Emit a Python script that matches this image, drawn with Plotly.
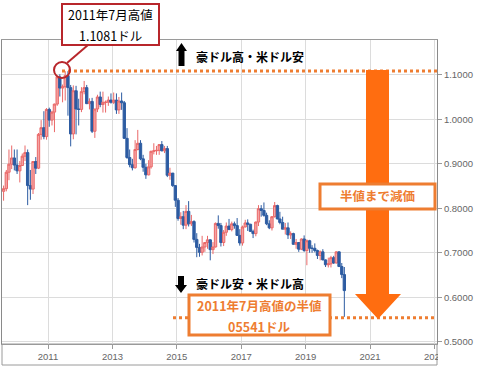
import pandas as pd
import plotly.graph_objects as go

# ---- data: AUD/USD monthly OHLC, Aug 2009 - Mar 2020 ----
start_month = "2009-08"
open_ = [
    0.838, 0.844, 0.881, 0.899, 0.913,
    0.897, 0.884, 0.896, 0.917, 0.925, 0.851, 0.843, 0.905, 0.890, 0.966, 0.981, 0.961,
    1.022, 0.998, 1.016, 1.034, 1.095, 1.070, 1.073, 1.098, 1.071, 0.967, 1.064, 1.023,
    1.022, 1.062, 1.071, 1.035, 1.040, 0.973, 1.023, 1.050, 1.033, 1.038, 1.038, 1.043,
    1.038, 1.043, 1.021, 1.041, 1.037, 0.957, 0.914, 0.898, 0.891, 0.932, 0.946, 0.911,
    0.892, 0.875, 0.893, 0.928, 0.929, 0.930, 0.943, 0.929, 0.934, 0.874, 0.879, 0.851,
    0.818, 0.777, 0.781, 0.762, 0.793, 0.765, 0.770, 0.730, 0.712, 0.701, 0.713, 0.723,
    0.729, 0.707, 0.713, 0.766, 0.761, 0.723, 0.746, 0.760, 0.752, 0.765, 0.761, 0.739,
    0.722, 0.758, 0.767, 0.764, 0.748, 0.743, 0.769, 0.799, 0.795, 0.784, 0.765, 0.756,
    0.781, 0.806, 0.776, 0.768, 0.753, 0.756, 0.740, 0.743, 0.719, 0.723, 0.708, 0.731,
    0.705, 0.727, 0.710, 0.710, 0.705, 0.694, 0.702, 0.684, 0.673, 0.675, 0.689, 0.677,
    0.702, 0.669, 0.651,
]
high = [
    0.851, 0.886, 0.932, 0.941, 0.932,
    0.932, 0.906, 0.923, 0.941, 0.932, 0.886, 0.906, 0.915, 0.969, 0.998, 1.018, 1.025,
    1.026, 1.019, 1.035, 1.095, 1.101, 1.078, 1.108, 1.108, 1.077, 1.076, 1.075, 1.046,
    1.072, 1.086, 1.077, 1.047, 1.048, 1.023, 1.055, 1.062, 1.062, 1.042, 1.051, 1.058,
    1.060, 1.058, 1.050, 1.060, 1.041, 0.980, 0.932, 0.911, 0.953, 0.976, 0.953, 0.920,
    0.900, 0.908, 0.929, 0.946, 0.940, 0.944, 0.951, 0.940, 0.940, 0.891, 0.879, 0.851,
    0.823, 0.791, 0.794, 0.807, 0.816, 0.785, 0.773, 0.744, 0.720, 0.738, 0.723, 0.738,
    0.730, 0.724, 0.768, 0.784, 0.767, 0.751, 0.768, 0.776, 0.770, 0.770, 0.778, 0.753,
    0.761, 0.774, 0.775, 0.765, 0.752, 0.770, 0.807, 0.807, 0.813, 0.790, 0.773, 0.782,
    0.814, 0.808, 0.792, 0.781, 0.767, 0.768, 0.748, 0.745, 0.731, 0.723, 0.732, 0.739,
    0.730, 0.729, 0.717, 0.721, 0.707, 0.705, 0.708, 0.685, 0.689, 0.693, 0.693, 0.703,
    0.703, 0.677, 0.668,
]
low = [
    0.817, 0.838, 0.863, 0.888, 0.885,
    0.877, 0.858, 0.895, 0.906, 0.807, 0.819, 0.832, 0.877, 0.888, 0.954, 0.955, 0.954,
    0.983, 0.986, 0.971, 1.030, 1.051, 1.038, 1.042, 1.008, 0.939, 0.955, 0.966, 0.986,
    1.016, 1.056, 1.034, 1.022, 0.969, 0.958, 1.016, 1.027, 1.015, 1.015, 1.030, 1.035,
    1.034, 1.012, 1.012, 1.021, 0.956, 0.911, 0.892, 0.885, 0.889, 0.930, 0.908, 0.882,
    0.866, 0.874, 0.889, 0.921, 0.920, 0.920, 0.928, 0.924, 0.870, 0.864, 0.848, 0.803,
    0.772, 0.763, 0.753, 0.753, 0.759, 0.760, 0.723, 0.690, 0.691, 0.694, 0.702, 0.709,
    0.683, 0.697, 0.712, 0.754, 0.714, 0.715, 0.738, 0.752, 0.748, 0.754, 0.738, 0.716,
    0.716, 0.757, 0.749, 0.747, 0.733, 0.737, 0.760, 0.781, 0.781, 0.762, 0.753, 0.750,
    0.779, 0.775, 0.764, 0.753, 0.741, 0.731, 0.731, 0.718, 0.709, 0.702, 0.706, 0.702,
    0.672, 0.700, 0.700, 0.701, 0.686, 0.683, 0.683, 0.668, 0.667, 0.667, 0.675, 0.676,
    0.668, 0.643, 0.556,
]
close = [
    0.844, 0.881, 0.899, 0.913, 0.897,
    0.884, 0.896, 0.917, 0.925, 0.851, 0.843, 0.905, 0.890, 0.966, 0.981, 0.961, 1.022,
    0.998, 1.016, 1.034, 1.095, 1.070, 1.073, 1.098, 1.071, 0.967, 1.064, 1.023, 1.022,
    1.062, 1.071, 1.035, 1.040, 0.973, 1.023, 1.050, 1.033, 1.038, 1.038, 1.043, 1.038,
    1.043, 1.021, 1.041, 1.037, 0.957, 0.914, 0.898, 0.891, 0.932, 0.946, 0.911, 0.892,
    0.875, 0.893, 0.928, 0.929, 0.930, 0.943, 0.929, 0.934, 0.874, 0.879, 0.851, 0.818,
    0.777, 0.781, 0.762, 0.793, 0.765, 0.770, 0.730, 0.712, 0.701, 0.713, 0.723, 0.729,
    0.707, 0.713, 0.766, 0.761, 0.723, 0.746, 0.760, 0.752, 0.765, 0.761, 0.739, 0.722,
    0.758, 0.767, 0.764, 0.748, 0.743, 0.769, 0.799, 0.795, 0.784, 0.765, 0.756, 0.781,
    0.806, 0.776, 0.768, 0.753, 0.756, 0.740, 0.743, 0.719, 0.723, 0.708, 0.731, 0.705,
    0.727, 0.710, 0.710, 0.705, 0.694, 0.702, 0.684, 0.673, 0.675, 0.689, 0.677, 0.702,
    0.669, 0.651, 0.615,
]
HIGH_2011 = 1.1081
HALF = 0.5541
x_ticks = ["2011-01-01", "2013-01-01", "2015-01-01", "2017-01-01", "2019-01-01", "2021-01-01", "2023-01-01"]
x_tick_text = ["2011", "2013", "2015", "2017", "2019", "2021", "2023"]
y_ticks = [0.5, 0.6, 0.7, 0.8, 0.9, 1.0, 1.1]

dates = pd.date_range(start_month + "-01", periods=len(close), freq="MS") + pd.Timedelta(days=14)

# ---- layout geometry (pixels) ----
W, H = 478, 369
L, R, T, B = 2, 437, 40, 344


def px(x):
    return (x - L) / (R - L)


def py(y):
    return (B - y) / (B - T)


def path(points):
    return "M " + " L ".join(f"{px(x):.5f},{py(y):.5f}" for x, y in points) + " Z"


ORANGE = "#ee7d31"
ARROW = "#ff6d10"
RED = "#b8262b"
JP = "Noto Sans CJK JP"

fig = go.Figure(
    go.Candlestick(
        x=dates, open=open_, high=high, low=low, close=close,
        increasing=dict(line=dict(color="#ea6868", width=1), fillcolor="#f4a3a3"),
        decreasing=dict(line=dict(color="#2d5ca2", width=1), fillcolor="#2d5ca2"),
        whiskerwidth=0, hoverinfo="skip",
    )
)

shapes = [
    # frame around x-axis area
    dict(type="rect", xref="paper", yref="paper", x0=px(2), x1=px(437), y0=py(344), y1=py(365),
         line=dict(color="#9a9a9a", width=1), layer="below"),
    # dotted reference lines
    dict(type="line", xref="paper", yref="y", x0=px(62), x1=px(437), y0=HIGH_2011, y1=HIGH_2011,
         line=dict(color=ORANGE, width=3, dash="dot")),
    dict(type="line", xref="paper", yref="y", x0=px(173), x1=px(437), y0=HALF, y1=HALF,
         line=dict(color=ORANGE, width=3, dash="dot")),
    # big orange arrow
    dict(type="path", xref="paper", yref="paper",
         path=path([(366, 70), (389, 70), (389, 294), (401, 294), (378, 319), (355, 294), (366, 294)]),
         fillcolor=ARROW, line=dict(width=0)),
    # boxes
    dict(type="rect", xref="paper", yref="paper", x0=px(320), x1=px(435), y0=py(184), y1=py(209),
         fillcolor="white", line=dict(color=ORANGE, width=3)),
    dict(type="rect", xref="paper", yref="paper", x0=px(189), x1=px(330), y0=py(295), y1=py(335),
         fillcolor="white", line=dict(color=ORANGE, width=3)),
    # red circle and connector
    dict(type="circle", xref="paper", yref="paper", x0=px(54), x1=px(70), y0=py(62), y1=py(78),
         line=dict(color=RED, width=2)),
    dict(type="line", xref="paper", yref="paper", x0=px(67), x1=px(88), y0=py(63), y1=py(45),
         line=dict(color=RED, width=2)),
    dict(type="rect", xref="paper", yref="paper", x0=px(62), x1=px(159), y0=py(4), y1=py(45),
         fillcolor="white", line=dict(color=RED, width=2)),
    # black arrows
    dict(type="path", xref="paper", yref="paper",
         path=path([(181.5, 43), (187, 51), (184.5, 51), (184.5, 66), (178.5, 66), (178.5, 51), (176, 51)]),
         fillcolor="black", line=dict(width=0)),
    dict(type="path", xref="paper", yref="paper",
         path=path([(181, 293), (187, 285), (184, 285), (184, 276), (178, 276), (178, 285), (175, 285)]),
         fillcolor="black", line=dict(width=0)),
    # cover for clipped labels in the lower-right corner
    dict(type="rect", xref="paper", yref="paper", x0=px(438), x1=px(480), y0=py(345), y1=py(372),
         fillcolor="white", line=dict(width=0), layer="above"),
]


def ann(x, y, text, color="black", size=12, xanchor="center", yanchor="middle"):
    return dict(xref="paper", yref="paper", x=px(x), y=py(y), text=text, showarrow=False,
                xanchor=xanchor, yanchor=yanchor, borderpad=0,
                font=dict(family=JP, size=size, color=color))


annotations = [
    ann(111, 25, "2011年7月高値", size=12.5, yanchor="bottom"),
    ann(111, 25, "1.1081ドル", size=12.5, yanchor="top"),
    ann(195, 56, "<b>豪ドル高・米ドル安</b>", size=12, xanchor="left"),
    ann(195, 283, "<b>豪ドル安・米ドル高</b>", size=12, xanchor="left"),
    ann(377, 196, "<b>半値まで減価</b>", color=ORANGE, size=12.5),
    ann(259, 315.5, "<b>2011年7月高値の半値</b>", color=ORANGE, size=12.5, yanchor="bottom"),
    ann(259, 315.5, "<b>05541ドル</b>", color=ORANGE, size=12.5, yanchor="top"),
]

tickfont = dict(family="Liberation Sans, Arial", size=9.5, color="#666666")
fig.update_layout(
    width=W, height=H,
    margin=dict(l=L, r=W - R, t=T, b=H - B),
    paper_bgcolor="white", plot_bgcolor="white",
    showlegend=False,
    boxgap=0.05, boxgroupgap=0,
    shapes=shapes, annotations=annotations,
    xaxis=dict(
        type="date", range=["2009-07-28", "2023-01-30"],
        tickvals=x_ticks, ticktext=x_tick_text,
        showgrid=True, gridcolor="#dcdcdc", gridwidth=1,
        showline=True, linecolor="#9a9a9a", mirror=True,
        ticks="outside", ticklen=4, tickcolor="#9a9a9a",
        tickfont=tickfont, rangeslider=dict(visible=False), zeroline=False,
    ),
    yaxis=dict(
        side="right", range=[0.495, 1.178],
        tickvals=y_ticks, tickformat=".4f",
        showgrid=True, gridcolor="#dcdcdc", gridwidth=1,
        showline=True, linecolor="#8a8a8a", mirror=True,
        ticks="outside", ticklen=4, tickcolor="#9a9a9a",
        tickfont=tickfont, zeroline=False,
    ),
)

fig.write_html("out.html")
